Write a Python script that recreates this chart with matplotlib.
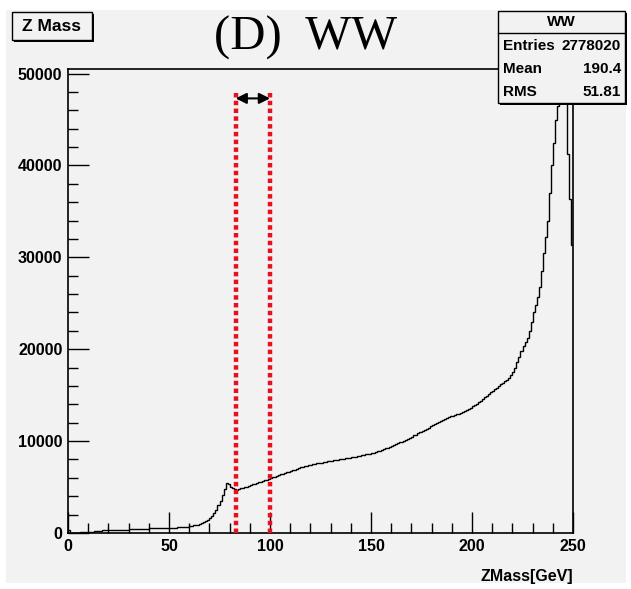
import numpy as np
import matplotlib
matplotlib.use("Agg")
import matplotlib.pyplot as plt
from matplotlib.patches import Rectangle
from matplotlib.ticker import MultipleLocator

# Z mass histogram, 1 GeV bins from 0 to 250
edges = np.arange(0, 251, 1)
counts = [
    350, 30, 40, 40, 50, 50, 60, 60,
    140, 150, 150, 160, 160, 170, 170, 180, 180,
    280, 290, 300, 300, 310, 320, 320, 330, 340, 340, 350, 360, 370,
    420, 430, 430, 440, 450, 450, 460, 470, 470, 480,
    500, 500, 510, 520, 520, 530, 540, 540, 550, 560,
    570, 580, 580, 590, 600, 600, 610, 620, 620, 630,
    780, 800, 820, 850, 880,
    950, 1050, 1150, 1300, 1450, 1650, 1900, 2200, 2550, 3000,
    3500, 4100, 4800, 5400, 5300, 5050, 4850, 4750, 4700, 4750,
    4850, 4900, 4980, 5050, 5150, 5200, 5300, 5350, 5420, 5520,
    5580, 5650, 5720, 5800, 5880,
    5950, 6050, 6130, 6200, 6300, 6380, 6430, 6550, 6620, 6680,
    6780, 6850, 6900, 7000, 7080, 7160, 7180, 7280, 7330, 7380,
    7440, 7470, 7530, 7580, 7600, 7670, 7720, 7740, 7810, 7850,
    7880, 7920, 7940, 7990, 8020, 8060, 8080, 8130, 8160, 8200,
    8240, 8290, 8310, 8380, 8430, 8450, 8510, 8560, 8580, 8640,
    8700, 8760, 8800, 8890, 8960, 9020, 9120, 9200, 9280, 9400,
    9500, 9600, 9700, 9760, 9860, 9950, 10020, 10150, 10260, 10360,
    10500, 10620, 10720, 10860, 10980, 11080, 11220, 11350, 11460, 11620,
    11750, 11880, 11980, 12100, 12200, 12280, 12400, 12500, 12580, 12700,
    12780, 12850, 12920, 13000, 13070, 13200, 13280, 13400, 13520, 13640,
    13780, 13900, 14080, 14230, 14400, 14560, 14760, 14940, 15100, 15300,
    15480, 15660, 15820, 16020, 16200, 16350, 16500, 16700, 16900, 17150,
    17500, 18000, 18600, 19200, 19760, 20300, 20800, 21200, 22000, 23000,
    24000, 24800, 25700, 26800, 28500, 30500, 32200, 34000, 37000, 40000,
    42500, 45000, 46500, 49000, 53000, 55000, 53000, 41300, 36300, 31300,
]

window = [83, 100]          # red mass window
window_top = 48000
stats_title = "WW"
stats_rows = [("Entries", "2778020"), ("Mean", "190.4"), ("RMS", "51.81")]

W, H = 631, 589
bg = "#f2f2f2"
sans = "Liberation Sans"

fig = plt.figure(figsize=(W / 100, H / 100), dpi=100, facecolor="white")

def fx(x):
    return x / W

def fy(y):
    return 1 - y / H

# grey canvas
fig.patches.append(Rectangle((fx(6), fy(583)), fx(626) - fx(6), fy(10) - fy(583),
                             transform=fig.transFigure, facecolor=bg,
                             edgecolor="none", zorder=-10))

ax = fig.add_axes([fx(68), fy(533), fx(573) - fx(68), fy(69) - fy(533)])
ax.set_zorder(1)
ax.set_facecolor(bg)
ax.stairs(counts, edges, color="black", lw=1.0, baseline=None)

ax.set_xlim(0, 250)
ax.set_ylim(0, 50500)
ax.xaxis.set_major_locator(MultipleLocator(50))
ax.xaxis.set_minor_locator(MultipleLocator(10))
ax.yaxis.set_major_locator(MultipleLocator(10000))
ax.yaxis.set_minor_locator(MultipleLocator(2000))
ax.tick_params(which="major", direction="in", length=15, width=1, pad=4)
ax.tick_params(which="minor", direction="in", length=7, width=1)
for lab in ax.get_xticklabels() + ax.get_yticklabels():
    lab.set_fontfamily(sans)
    lab.set_fontweight("bold")
    lab.set_fontsize(11.5)
for sp in ax.spines.values():
    sp.set_linewidth(1.2)

# mass window lines and arrow
for xv in window:
    ax.plot([xv, xv], [0, window_top], color="#e8101c", lw=3.2,
            linestyle=(0, (1, 0.75)), solid_capstyle="butt", zorder=3)
ax.annotate("", xy=(window[0], window_top - 700), xytext=(window[1], window_top - 700),
            arrowprops=dict(arrowstyle="<|-|>", color="black", lw=1.5,
                            mutation_scale=16, shrinkA=0, shrinkB=0), zorder=4)

fig.text(fx(573), fy(577), "ZMass[GeV]", ha="right", va="center",
         fontfamily=sans, fontweight="bold", fontsize=11.5)

# title
fig.text(fx(306), fy(38), "(D)  WW", ha="center", va="center",
         fontfamily="Liberation Serif", fontsize=35)

# Z Mass label box with shadow
fig.patches.append(Rectangle((fx(14), fy(42)), fx(80), fy(12) - fy(40),
                             transform=fig.transFigure, facecolor="black",
                             edgecolor="none", zorder=5))
fig.patches.append(Rectangle((fx(12), fy(40)), fx(80), fy(12) - fy(40),
                             transform=fig.transFigure, facecolor=bg,
                             edgecolor="black", lw=1.0, zorder=6))
fig.text(fx(52), fy(26.5), "Z Mass", ha="center", va="center", zorder=7,
         fontfamily=sans, fontweight="bold", fontsize=12.5)

# stats box with shadow
bx0, bx1, by0, by1 = 498, 625, 11, 103
fig.patches.append(Rectangle((fx(bx0 + 2), fy(by1 + 2)), fx(bx1 - bx0), fy(by0) - fy(by1),
                             transform=fig.transFigure, facecolor="black",
                             edgecolor="none", zorder=5))
fig.patches.append(Rectangle((fx(bx0), fy(by1)), fx(bx1 - bx0), fy(by0) - fy(by1),
                             transform=fig.transFigure, facecolor=bg,
                             edgecolor="black", lw=1.0, zorder=6))
fig.add_artist(plt.Line2D([fx(bx0), fx(bx1)], [fy(33), fy(33)],
                          transform=fig.transFigure, color="black", lw=1.0, zorder=7))
fig.text(fx((bx0 + bx1) / 2), fy(22.5), stats_title, ha="center", va="center", zorder=8,
         fontfamily=sans, fontweight="bold", fontsize=11)
for i, (name, val) in enumerate(stats_rows):
    yy = fy(46 + i * 23)
    fig.text(fx(503), yy, name, ha="left", va="center", zorder=8,
             fontfamily=sans, fontweight="bold", fontsize=11)
    fig.text(fx(621), yy, val, ha="right", va="center", zorder=8,
             fontfamily=sans, fontweight="bold", fontsize=11)

fig.savefig("out.png", dpi=100, facecolor="white")
